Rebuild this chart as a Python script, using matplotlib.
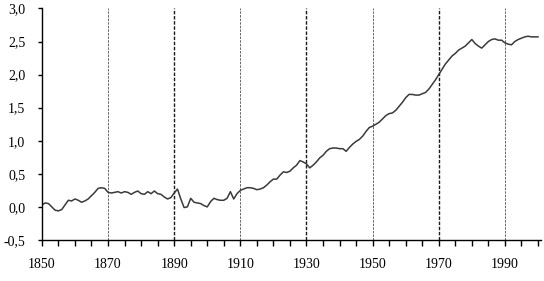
import numpy as np
import matplotlib
matplotlib.use('Agg')
import matplotlib.pyplot as plt
from matplotlib.ticker import MultipleLocator, FuncFormatter

# values, one per year
years = np.arange(1850, 2001)
values = [
    0.03, 0.06, 0.05, 0.00, -0.05, -0.06, -0.04, 0.03, 0.10, 0.09,   # 1850s
    0.12, 0.10, 0.07, 0.09, 0.12, 0.17, 0.22, 0.28, 0.29, 0.28,      # 1860s
    0.22, 0.21, 0.22, 0.23, 0.21, 0.23, 0.22, 0.19, 0.22, 0.24,      # 1870s
    0.20, 0.19, 0.23, 0.20, 0.24, 0.20, 0.19, 0.15, 0.12, 0.14,      # 1880s
    0.21, 0.27, 0.12, -0.01, 0.00, 0.13, 0.07, 0.06, 0.05, 0.02,     # 1890s
    0.00, 0.08, 0.13, 0.11, 0.10, 0.10, 0.13, 0.23, 0.12, 0.20,      # 1900s
    0.25, 0.27, 0.29, 0.29, 0.28, 0.26, 0.27, 0.29, 0.33, 0.38,      # 1910s
    0.42, 0.42, 0.48, 0.53, 0.52, 0.54, 0.59, 0.63, 0.70, 0.68,      # 1920s
    0.65, 0.59, 0.63, 0.68, 0.74, 0.78, 0.84, 0.88, 0.89, 0.89,      # 1930s
    0.88, 0.88, 0.84, 0.90, 0.95, 0.99, 1.02, 1.07, 1.14, 1.20,      # 1940s
    1.22, 1.25, 1.28, 1.33, 1.38, 1.41, 1.42, 1.46, 1.52, 1.58,      # 1950s
    1.65, 1.70, 1.70, 1.69, 1.69, 1.71, 1.73, 1.78, 1.85, 1.92,      # 1960s
    2.00, 2.08, 2.16, 2.22, 2.28, 2.32, 2.37, 2.40, 2.43, 2.48,      # 1970s
    2.53, 2.47, 2.43, 2.40, 2.45, 2.50, 2.53, 2.54, 2.52, 2.52,      # 1980s
    2.48, 2.46, 2.45, 2.50, 2.53, 2.55, 2.57, 2.58, 2.57, 2.57,      # 1990s
    2.57,
]
xtick_years = [1850, 1870, 1890, 1910, 1930, 1950, 1970, 1990]
marker_years = [1870, 1890, 1910, 1930, 1950, 1970, 1990]
strong_years = [1890, 1930, 1970]

plt.rcParams['font.family'] = ['Liberation Serif', 'DejaVu Serif']

fig = plt.figure(figsize=(5.44, 2.81), dpi=100)
ax = fig.add_axes([0.077, 0.146, 0.918, 0.824])

# dashed vertical guide lines
for yr in marker_years:
    if yr in strong_years:
        ax.axvline(yr, color='#1a1a1a', ls=(0, (2.5, 1.2)), lw=1.0, zorder=1)
    else:
        ax.axvline(yr, color='#666666', ls=(0, (2.5, 1.2)), lw=0.7, zorder=1)

ax.plot(years, values, color='#3a3a3a', lw=1.1, zorder=2)

ax.set_xlim(1850, 2001)
ax.set_ylim(-0.5, 3.0)
ax.set_xticks(xtick_years)
ax.xaxis.set_minor_locator(MultipleLocator(5))
ax.yaxis.set_major_locator(MultipleLocator(0.5))
ax.yaxis.set_major_formatter(FuncFormatter(lambda v, p: f'{v:.1f}'.replace('.', ',')))

ax.spines['top'].set_visible(False)
ax.spines['right'].set_visible(False)
ax.spines['left'].set_linewidth(1.0)
ax.spines['bottom'].set_linewidth(1.0)

ax.tick_params(axis='x', which='both', direction='out', length=4, width=1, pad=9, labelsize=10)
ax.tick_params(axis='y', direction='out', length=3, width=1, pad=9, labelsize=10)

fig.savefig('out.png', dpi=100)
